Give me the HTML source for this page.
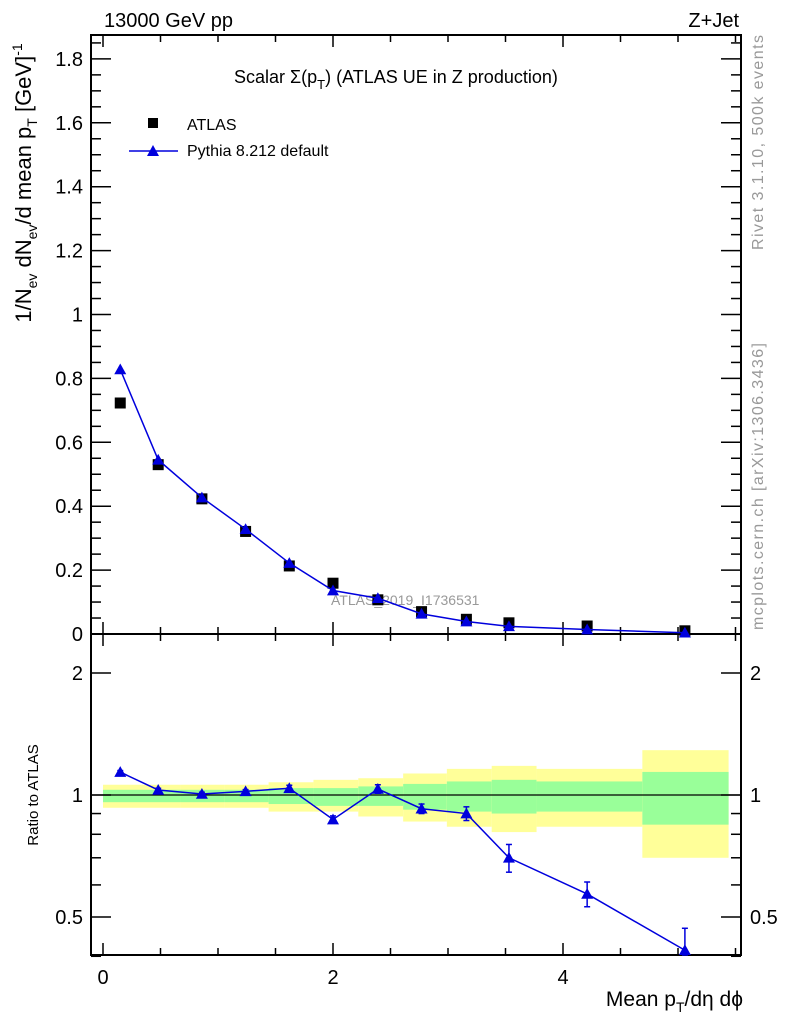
<!DOCTYPE html>
<html><head><meta charset="utf-8"><style>
html,body{margin:0;padding:0;background:#fff;}
svg{display:block;font-family:"Liberation Sans",Arial,sans-serif;}
</style></head><body>
<svg id="chart" width="786" height="1024" viewBox="0 0 786 1024"></svg>
<script>
const xVals=[0.15,0.48,0.86,1.24,1.62,2.0,2.39,2.77,3.16,3.53,4.21,5.06];
const atlasVals=[0.723,0.530,0.423,0.321,0.213,0.159,0.107,0.070,0.046,0.035,0.025,0.010];
const pythiaVals=[0.828,0.545,0.427,0.328,0.222,0.136,0.112,0.063,0.039,0.024,0.014,0.004];
const pythiaErr=[0.012,0.006,0.005,0.004,0.004,0.003,0.003,0.002,0.002,0.002,0.001,0.001];
const ratioVals=[1.139,1.029,1.006,1.021,1.039,0.870,1.035,0.925,0.900,0.700,0.570,0.414];
const ratioErr=[0.01,0.01,0.01,0.01,0.018,0.018,0.025,0.025,0.035,0.055,0.04,0.055];
const binEdges=[0,0.3,0.67,1.06,1.44,1.83,2.22,2.61,2.99,3.38,3.77,4.69,5.44];
const yellowUp=[1.06,1.06,1.06,1.06,1.075,1.09,1.10,1.13,1.16,1.18,1.16,1.29];
const yellowDn=[0.93,0.93,0.93,0.93,0.91,0.91,0.885,0.86,0.835,0.81,0.835,0.70];
const greenUp=[1.03,1.03,1.03,1.03,1.04,1.04,1.05,1.065,1.08,1.09,1.08,1.14];
const greenDn=[0.96,0.96,0.96,0.96,0.95,0.94,0.94,0.92,0.91,0.90,0.91,0.845];
const mainTicks=["0","0.2","0.4","0.6","0.8","1","1.2","1.4","1.6","1.8"];
const ratioTicks=[0.5,1,2];
const xTicks=["0","2","4"];

const NS="http://www.w3.org/2000/svg";
const svg=document.getElementById('chart');
const L=91,R=741,T=35,MB=634,RB=955;
const X=v=>103+115*v;
const Y=v=>634-319.5*v;
const YR=v=>795-405.3*Math.log10(v);
function el(tag,attrs,parent){const e=document.createElementNS(NS,tag);for(const k in attrs)e.setAttribute(k,attrs[k]);(parent||svg).appendChild(e);return e;}
function txt(s,x,y,size,attrs,parent){const t=el('text',Object.assign({x:x,y:y,'font-size':size},attrs||{}),parent);t.textContent=s;return t;}

const bands=el('g',{});


for(let i=0;i<yellowUp.length;i++){
  const x0=X(binEdges[i]),x1=X(binEdges[i+1]);
  const y=el('rect',{x:x0,y:YR(yellowUp[i]),width:x1-x0,height:YR(yellowDn[i])-YR(yellowUp[i]),fill:'#ffff99'},bands);
  
  
  const g=el('rect',{x:x0,y:YR(greenUp[i]),width:x1-x0,height:YR(greenDn[i])-YR(greenUp[i]),fill:'#99ff99'},bands);
  
  
}
const one=el('line',{x1:L,x2:R,y1:YR(1),y2:YR(1),stroke:'#000','stroke-width':1.2});



const f1=el('rect',{x:L,y:T,width:R-L,height:MB-T,fill:'none',stroke:'#000','stroke-width':2});


const f2=el('rect',{x:L,y:MB,width:R-L,height:RB-MB,fill:'none',stroke:'#000','stroke-width':2});



for(let v=0;v<=5.5;v+=0.5){
  const major=Math.abs(v%2)<1e-6;
  const len=major?12:7;
  el('line',{x1:X(v),x2:X(v),y1:MB,y2:MB-len,stroke:'#000','stroke-width':1.5});
  el('line',{x1:X(v),x2:X(v),y1:T,y2:T+len,stroke:'#000','stroke-width':1.5});
  el('line',{x1:X(v),x2:X(v),y1:RB,y2:RB-len,stroke:'#000','stroke-width':1.5});
  el('line',{x1:X(v),x2:X(v),y1:MB,y2:MB+len,stroke:'#000','stroke-width':1.5});
}
xTicks.forEach(s=>{const t=txt(s,X(+s),984,20,{'text-anchor':'middle'});
  });

for(let i=0;i<=37;i++){
  const v=i*0.05;const major=i%4===0;const len=major?20:10;
  el('line',{x1:L,x2:L+len,y1:Y(v),y2:Y(v),stroke:'#000','stroke-width':1.5});
  el('line',{x1:R,x2:R-len,y1:Y(v),y2:Y(v),stroke:'#000','stroke-width':1.5});
}
mainTicks.forEach(s=>{const t=txt(s,83,Y(+s)+7,20,{'text-anchor':'end'});
  });

const rMinor=[0.4,0.5,0.6,0.7,0.8,0.9,1,2];
rMinor.forEach(v=>{const len=ratioTicks.includes(v)?20:10;
  el('line',{x1:L,x2:L+len,y1:YR(v),y2:YR(v),stroke:'#000','stroke-width':1.5});
  el('line',{x1:R,x2:R-len,y1:YR(v),y2:YR(v),stroke:'#000','stroke-width':1.5});});
ratioTicks.forEach(v=>{
  const a=txt(String(v),83,YR(v)+7,20,{'text-anchor':'end'});
  
  const b=txt(String(v),750,YR(v)+7,20,{});
  });

function tri(x,y,s,parent){return el('polygon',{points:`${x},${y-s} ${x-s},${y+s*0.8} ${x+s},${y+s*0.8}`,fill:'#0000dd'},parent);}

const wm=txt('ATLAS_2019_I1736531',331,605,14,{fill:'#999'});


const atl=el('g',{});

xVals.forEach((x,i)=>{const r=el('rect',{x:X(x)-5.5,y:Y(atlasVals[i])-5.5,width:11,height:11,fill:'#000'},atl);
  });
const py=el('g',{});

el('polyline',{points:xVals.map((x,i)=>`${X(x)},${Y(pythiaVals[i])}`).join(' '),fill:'none',stroke:'#0000dd','stroke-width':1.5},py);
xVals.forEach((x,i)=>{
  el('line',{x1:X(x),x2:X(x),y1:Y(pythiaVals[i]+pythiaErr[i]),y2:Y(pythiaVals[i]-pythiaErr[i]),stroke:'#0000dd','stroke-width':1.5},py);
  const p=tri(X(x),Y(pythiaVals[i]),6,py);
  });

const rg=el('g',{});

el('polyline',{points:xVals.map((x,i)=>`${X(x)},${YR(ratioVals[i])}`).join(' '),fill:'none',stroke:'#0000dd','stroke-width':1.5},rg);
xVals.forEach((x,i)=>{
  const y1=YR(ratioVals[i]+ratioErr[i]),y2=Math.min(RB,YR(ratioVals[i]-ratioErr[i]));
  el('line',{x1:X(x),x2:X(x),y1:y1,y2:y2,stroke:'#0000dd','stroke-width':1.5},rg);
  el('line',{x1:X(x)-3,x2:X(x)+3,y1:y1,y2:y1,stroke:'#0000dd','stroke-width':1.5},rg);
  el('line',{x1:X(x)-3,x2:X(x)+3,y1:y2,y2:y2,stroke:'#0000dd','stroke-width':1.5},rg);
  const p=tri(X(x),YR(ratioVals[i]),6,rg);
  });
</script>
<svg width="786" height="1024" style="position:absolute;left:0;top:0;pointer-events:none;font-family:'Liberation Sans',Arial,sans-serif;">
  <text x="104" y="27" font-size="20">13000 GeV pp</text>
  <text x="739" y="27" font-size="20" text-anchor="end">Z+Jet</text>
  <text x="234" y="83" font-size="18">Scalar Σ(p<tspan font-size="13" dy="6">T</tspan><tspan dy="-6">) (ATLAS UE in Z production)</tspan></text>
  <rect x="148" y="118" width="10" height="10" fill="#000"/>
  <text x="187" y="130" font-size="16">ATLAS</text>
  <line x1="129" y1="151" x2="178" y2="151" stroke="#0000dd" stroke-width="1.5"/>
  <polygon points="153,145 147,156 159,156" fill="#0000dd"/>
  <text x="187" y="156" font-size="16">Pythia 8.212 default</text>
  <text transform="translate(31,183) rotate(-90)" font-size="22" text-anchor="middle">1/N<tspan font-size="14" dy="6">ev</tspan><tspan dy="-6"> dN</tspan><tspan font-size="14" dy="6">ev</tspan><tspan dy="-6">/d mean p</tspan><tspan font-size="14" dy="6">T</tspan><tspan dy="-6">  [GeV]</tspan><tspan font-size="14" dy="-9">-1</tspan></text>
  <text transform="translate(38,795) rotate(-90)" font-size="15" text-anchor="middle">Ratio to ATLAS</text>
  <text x="743" y="1006" font-size="21" text-anchor="end">Mean p<tspan font-size="14" dy="6">T</tspan><tspan dy="-6">/dη dϕ</tspan></text>
  <text transform="translate(763,250) rotate(-90)" font-size="16" fill="#999" textLength="215">Rivet 3.1.10,  500k events</text>
  <text transform="translate(763,630) rotate(-90)" font-size="16" fill="#999" textLength="287">mcplots.cern.ch [arXiv:1306.3436]</text>
</svg>
</body></html>
